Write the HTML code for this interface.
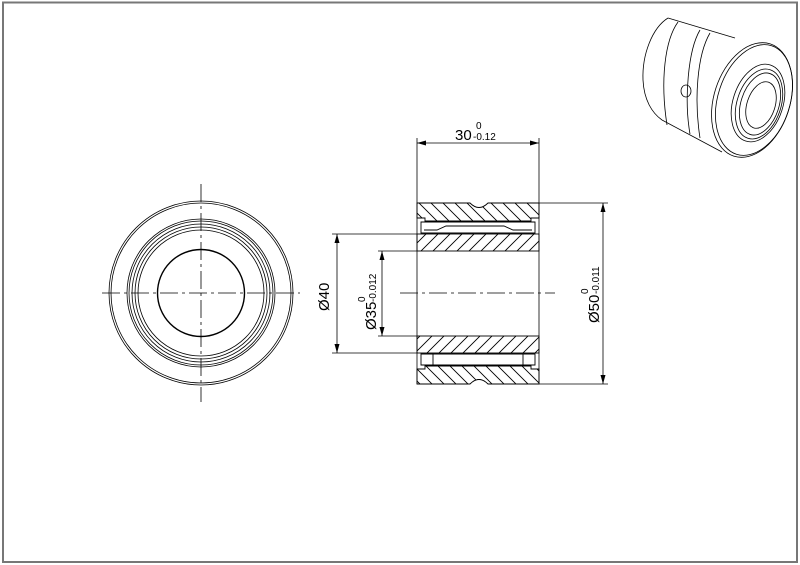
<!DOCTYPE html>
<html><head><meta charset="utf-8"><style>
html,body{margin:0;padding:0;background:#fff}
svg{display:block}
text{font-family:"Liberation Sans",Arial,sans-serif;fill:#000}
</style></head><body>
<svg width="800" height="565" viewBox="0 0 800 565" xmlns="http://www.w3.org/2000/svg">
<defs>
<pattern id="hb" patternUnits="userSpaceOnUse" width="12" height="12">
<path d="M0,0 L12,12 M-3,9 L3,15 M9,-3 L15,3" stroke="#000" stroke-width="0.9"/>
</pattern>
<pattern id="hf" patternUnits="userSpaceOnUse" width="12" height="12">
<path d="M0,12 L12,0 M-3,3 L3,-3 M9,15 L15,9" stroke="#000" stroke-width="0.9"/>
</pattern>
</defs>
<rect x="3" y="2.5" width="794" height="559.5" fill="none" stroke="#777" stroke-width="2"/>

<!-- left view -->
<g fill="none" stroke="#000" stroke-width="0.8">
<line x1="102" y1="293" x2="300" y2="293" stroke-dasharray="18,4,3,4"/>
<line x1="201" y1="184" x2="201" y2="402" stroke-dasharray="18,4,3,4"/>
<circle cx="201" cy="293" r="92"/>
<circle cx="201" cy="293" r="90"/>
<circle cx="201" cy="293" r="74"/>
<circle cx="201" cy="293" r="72"/>
<circle cx="201" cy="293" r="69"/>
<circle cx="201" cy="293" r="66"/>
<circle cx="201" cy="293" r="63"/>
<circle cx="201" cy="293" r="43.5" stroke-width="1.4"/>
</g>

<!-- section view -->
<g stroke="#000" stroke-width="0.9">
<path d="M417,203 H470 Q479,212 488,203 H539 V218 H531 V221 H425 V218 H417 Z" fill="url(#hb)"/>
<path d="M417,384 H470 Q479,375 488,384 H539 V369 H531 V366 H425 V369 H417 Z" fill="url(#hb)"/>
<rect x="417" y="234" width="122" height="17" fill="url(#hf)"/>
<rect x="417" y="336" width="122" height="17" fill="url(#hf)"/>
<path d="M421,222 H535 V233 H421 Z" fill="#fff"/>
<path d="M424,230 H437 L446,226 H504 L513,230 H532" fill="none"/>
<path d="M421,354 H535 V365 H421 Z" fill="#fff"/>
<line x1="433" y1="354" x2="433" y2="365"/>
<line x1="523" y1="354" x2="523" y2="365"/>
</g>
<g fill="none" stroke="#000" stroke-width="0.8">
<line x1="417" y1="203" x2="417" y2="384"/>
<line x1="539" y1="203" x2="539" y2="384"/>
<line x1="400" y1="293" x2="555" y2="293" stroke-dasharray="18,4,3,4"/>
<line x1="417" y1="138" x2="417" y2="203"/>
<line x1="539" y1="138" x2="539" y2="203"/>
<line x1="417" y1="143" x2="539" y2="143"/>
<line x1="332" y1="234" x2="417" y2="234"/>
<line x1="332" y1="353" x2="417" y2="353"/>
<line x1="337" y1="234" x2="337" y2="353"/>
<line x1="378" y1="251" x2="417" y2="251"/>
<line x1="378" y1="336" x2="417" y2="336"/>
<line x1="382" y1="251" x2="382" y2="336"/>
<line x1="539" y1="203" x2="608" y2="203"/>
<line x1="539" y1="384" x2="608" y2="384"/>
<line x1="603" y1="203" x2="603" y2="384"/>
</g>
<g fill="#000">
<path d="M417,143 l9,-2.5 v5 z"/><path d="M539,143 l-9,-2.5 v5 z"/>
<path d="M337,234 l-2.5,9 h5 z"/><path d="M337,353 l-2.5,-9 h5 z"/>
<path d="M382,251 l-2.5,9 h5 z"/><path d="M382,336 l-2.5,-9 h5 z"/>
<path d="M603,203 l-2.5,9 h5 z"/><path d="M603,384 l-2.5,-9 h5 z"/>
</g>
<text x="455" y="140" font-size="15">30</text>
<text x="476" y="129" font-size="10">0</text>
<text x="473" y="140" font-size="10">-0.12</text>
<text transform="translate(329,311) rotate(-90)" font-size="15">Ø40</text>
<text transform="translate(376,330) rotate(-90)" font-size="15">Ø35</text>
<text transform="translate(365,302) rotate(-90)" font-size="10">0</text>
<text transform="translate(376,302) rotate(-90)" font-size="10">-0.012</text>
<text transform="translate(599,323) rotate(-90)" font-size="15">Ø50</text>
<text transform="translate(588,294) rotate(-90)" font-size="10">0</text>
<text transform="translate(599,294) rotate(-90)" font-size="10">-0.011</text>

<!-- 3D view -->
<g fill="none" stroke="#000" stroke-width="0.8">
<path d="M668,18 C652,28 642,55 643,80 C644,100 652,113 662,120"/>
<path d="M668,18 L735,38"/>
<path d="M662,120 L722,152"/>
<path d="M678,22 C665,40 660,80 667,125"/>
<path d="M700,30 C688,50 684,100 690,134"/>
<path d="M710,33 C697,55 694,100 700,138"/>
<ellipse cx="754" cy="100" rx="36" ry="57" transform="rotate(18 754 100)"/>
<ellipse cx="752" cy="100" rx="38" ry="59" transform="rotate(18 752 100)"/>
<ellipse cx="758" cy="103" rx="25" ry="40" transform="rotate(18 758 103)"/>
<ellipse cx="759" cy="104" rx="22" ry="36" transform="rotate(18 759 104)"/>
<ellipse cx="760" cy="104" rx="19" ry="32" transform="rotate(18 760 104)"/>
<ellipse cx="761" cy="105" rx="14" ry="24" transform="rotate(18 761 105)"/>
<ellipse cx="686" cy="91" rx="5" ry="6"/>
</g>
</svg>
</body></html>
